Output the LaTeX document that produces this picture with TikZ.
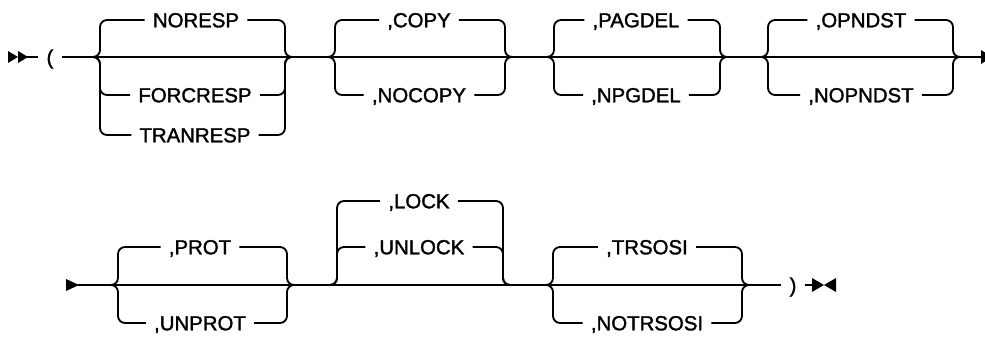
\documentclass[tikz,border=0pt]{standalone}
\usepackage{fontspec}
\setmainfont{Liberation Sans}
\newfontfamily\railfont{Liberation Sans}[FakeBold=1.6]

\begin{document}
\begin{tikzpicture}[x=0.02cm,y=-0.02cm]
 \tikzstyle{kw}=[inner xsep=4.5pt,inner ysep=2pt,text height=8.3pt,
   text depth=0pt,font=\railfont\fontsize{11.6}{13}\selectfont]
 \tikzstyle{rail}=[line width=1.05pt,rounded corners=4pt]
 \clip (0,0) rectangle (985,337);
 % first line
 \fill (8,51) -- (18,57) -- (8,63) -- cycle;
 \fill (18,51) -- (28,57) -- (18,63) -- cycle;
 \coordinate (s1) at (27,57);
 \node[kw] (lparen) at (50,57) {(};
 \coordinate (e1) at (982,57);
 \coordinate (j1l) at (93,57);  \coordinate (v1l) at (100,57);
 \coordinate (v1r) at (285,57); \coordinate (j1r) at (293,57);
 \coordinate (j2l) at (327,57); \coordinate (v2l) at (335,57);
 \coordinate (v2r) at (505,57); \coordinate (j2r) at (513,57);
 \coordinate (j3l) at (547,57); \coordinate (v3l) at (554,57);
 \coordinate (v3r) at (720,57); \coordinate (j3r) at (727,57);
 \coordinate (j4l) at (761,57); \coordinate (v4l) at (768,57);
 \coordinate (v4r) at (953,57); \coordinate (j4r) at (961,57);
 \node[kw] (noresp) at (196,20) {NORESP};
 \node[kw] (forcresp) at (195,95) {FORCRESP};
 \node[kw] (tranresp) at (195,135) {TRANRESP};
 \node[kw] (copy) at (419,20) {,COPY};
 \node[kw] (nocopy) at (419,95) {,NOCOPY};
 \node[kw] (pagdel) at (636,20) {,PAGDEL};
 \node[kw] (npgdel) at (636,95) {,NPGDEL};
 \node[kw] (opndst) at (861,20) {,OPNDST};
 \node[kw] (nopndst) at (861,95) {,NOPNDST};
 \draw[rail] (s1) -- (lparen);
 \draw[rail] (lparen) -- (e1);
 \draw[rail] (j1l) -- (v1l) |- (noresp);
 \draw[rail] (j1l) -- (v1l) |- (forcresp);
 \draw[rail] (j1l) -- (v1l) |- (tranresp);
 \draw[rail] (noresp) -| (v1r) -- (j1r);
 \draw[rail] (forcresp) -| (v1r) -- (j1r);
 \draw[rail] (tranresp) -| (v1r) -- (j1r);
 \draw[rail] (j2l) -- (v2l) |- (copy);
 \draw[rail] (j2l) -- (v2l) |- (nocopy);
 \draw[rail] (copy) -| (v2r) -- (j2r);
 \draw[rail] (nocopy) -| (v2r) -- (j2r);
 \draw[rail] (j3l) -- (v3l) |- (pagdel);
 \draw[rail] (j3l) -- (v3l) |- (npgdel);
 \draw[rail] (pagdel) -| (v3r) -- (j3r);
 \draw[rail] (npgdel) -| (v3r) -- (j3r);
 \draw[rail] (j4l) -- (v4l) |- (opndst);
 \draw[rail] (j4l) -- (v4l) |- (nopndst);
 \draw[rail] (opndst) -| (v4r) -- (j4r);
 \draw[rail] (nopndst) -| (v4r) -- (j4r);
 \fill (981,50) -- (992,57) -- (981,64) -- cycle;
 % second line
 \fill (66,279) -- (79,285) -- (66,291) -- cycle;
 \coordinate (s2) at (78,285);
 \node[kw] (rparen) at (793,285) {)};
 \coordinate (e2) at (814,285);
 \coordinate (j5l) at (113,285); \coordinate (v5l) at (118,285);
 \coordinate (v5r) at (287,285); \coordinate (j5r) at (293,285);
 \coordinate (j6l) at (330,285); \coordinate (v6l) at (337,285);
 \coordinate (v6r) at (503,285); \coordinate (j6r) at (511,285);
 \coordinate (j7l) at (545,285); \coordinate (v7l) at (553,285);
 \coordinate (v7r) at (742,285); \coordinate (j7r) at (750,285);
 \node[kw] (prot) at (200,247) {,PROT};
 \node[kw] (unprot) at (200,323) {,UNPROT};
 \node[kw] (lock) at (419,201) {,LOCK};
 \node[kw] (unlock) at (419,247) {,UNLOCK};
 \node[kw] (trsosi) at (647,247) {,TRSOSI};
 \node[kw] (notrsosi) at (647,323) {,NOTRSOSI};
 \draw[rail] (s2) -- (rparen);
 \draw[rail] (rparen) -- (e2);
 \draw[rail] (j5l) -- (v5l) |- (prot);
 \draw[rail] (j5l) -- (v5l) |- (unprot);
 \draw[rail] (prot) -| (v5r) -- (j5r);
 \draw[rail] (unprot) -| (v5r) -- (j5r);
 \draw[rail] (j6l) -- (v6l) |- (lock);
 \draw[rail] (j6l) -- (v6l) |- (unlock);
 \draw[rail] (lock) -| (v6r) -- (j6r);
 \draw[rail] (unlock) -| (v6r) -- (j6r);
 \draw[rail] (j7l) -- (v7l) |- (trsosi);
 \draw[rail] (j7l) -- (v7l) |- (notrsosi);
 \draw[rail] (trsosi) -| (v7r) -- (j7r);
 \draw[rail] (notrsosi) -| (v7r) -- (j7r);
 \fill (812,278) -- (824,285) -- (812,292) -- cycle;
 \fill (836,278) -- (824,285) -- (836,292) -- cycle;
\end{tikzpicture}
\end{document}
